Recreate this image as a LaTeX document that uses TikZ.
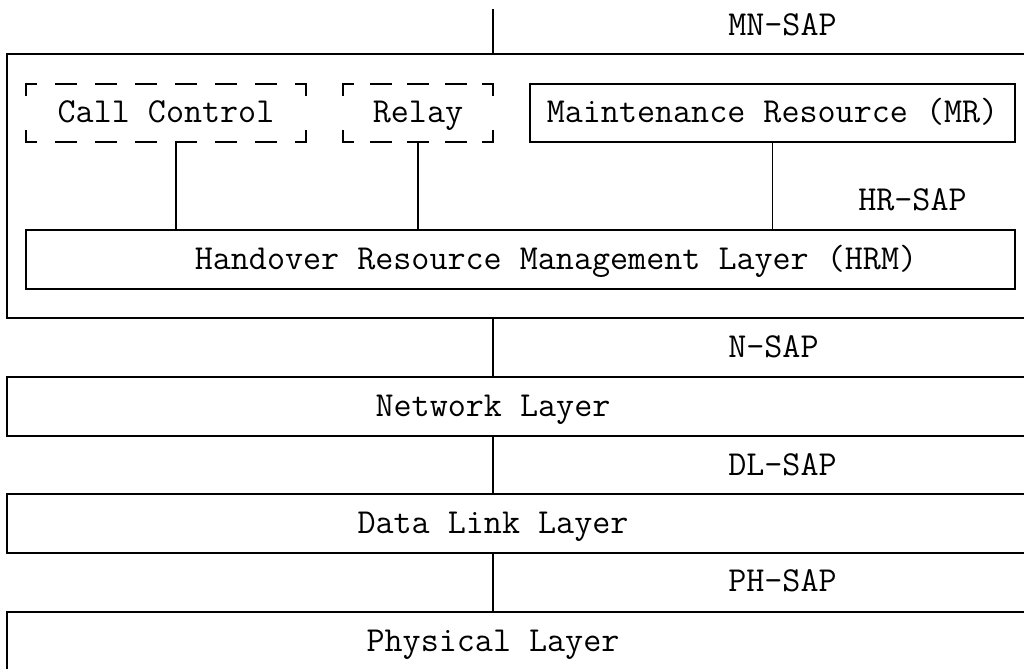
\documentclass[tikz,border=0pt]{standalone}
\usetikzlibrary{positioning}
\tikzset{
  basebox/.style={draw=black,line width=1.4pt,fill=none,inner sep=0pt,outer sep=0pt,align=center},
  solidbox/.style={basebox,minimum height=43.75pt},
  dashbox/.style={basebox,draw=none,minimum height=43.5pt},
  layerbox/.style={basebox,minimum width=774.75pt,minimum height=44.25pt},
  txt/.style={inner sep=0pt,font=\ttfamily\fontsize{26.3}{30}\selectfont,text height=19.7pt,text depth=5.3pt},
  saplabel/.style={txt,anchor=west},
  link/.style={line width=1.4pt,draw=black},
  ccside/.style={link,line cap=rect,dash pattern=on 15.1pt off 14.9pt,dash phase=7.55pt},
  relayside/.style={link,line cap=rect,dash pattern=on 15.1pt off 13.025pt,dash phase=7.55pt},
  vside/.style={link,line cap=rect,dash pattern=on 16.6pt off 26.9pt,dash phase=8.3pt}
}

\begin{document}
\begin{tikzpicture}[x=0.75pt,y=-0.75pt]
  \useasboundingbox (0,0) rectangle (1024,668);
  \clip (0,0) rectangle (1024,668);
  % service access point axis
  \coordinate (top) at (493,9);

  % upper entity
  \node[basebox,minimum width=774.75pt,minimum height=198pt] (outer) at (523.5,186) {};
  \node[dashbox,txt,minimum width=210pt] (cc) at (166,113) {Call Control};
  \node[dashbox,txt,minimum width=112.5pt] (relay) at (418,113) {Relay};
  \node[solidbox,txt,minimum width=363.75pt] (mr) at (772.5,113) {Maintenance Resource (MR)};
  \node[basebox,minimum width=741.75pt,minimum height=44.25pt] (hrm) at (520.5,259.5) {};
  \node[txt] (hrmtxt) at ([xshift=26.6pt]hrm.center) {Handover Resource Management Layer (HRM)};
  \coordinate (ccfoot) at ([xshift=7.5pt]cc.south);

  % dashed frames, one side at a time
  \draw[ccside] (cc.north west) -- (cc.north east);
  \draw[ccside] (cc.south west) -- (cc.south east);
  \draw[vside] (cc.north west) -- (cc.south west);
  \draw[vside] (cc.north east) -- (cc.south east);
  \draw[relayside] (relay.north west) -- (relay.north east);
  \draw[relayside] (relay.south west) -- (relay.south east);
  \draw[vside] (relay.north west) -- (relay.south west);
  \draw[vside] (relay.north east) -- (relay.south east);

  % lower layers
  \node[layerbox,below=44.25pt of outer] (net) {};
  \node[layerbox,below=43.5pt of net] (dl) {};
  \node[layerbox,below=44.25pt of dl] (ph) {};
  \node[txt] (nettxt) at (net.center -| top) {Network Layer};
  \node[txt] (dltxt) at (dl.center -| top) {Data Link Layer};
  \node[txt] (phtxt) at (ph.center -| top) {Physical Layer};

  % SAP labels
  \node[saplabel] (mnsap) at (728,26) {MN-SAP};
  \node[saplabel] (hrsap) at (858,201) {HR-SAP};
  \node[saplabel] (nsap) at (728,348) {N-SAP};
  \node[saplabel] (dlsap) at (728,466) {DL-SAP};
  \node[saplabel] (phsap) at (728,582) {PH-SAP};

  % connectors
  \draw[link] (top) -- (outer.north -| top);
  \draw[link] (ccfoot) -- (hrm.north -| ccfoot);
  \draw[link] (relay.south) -- (hrm.north -| relay.south);
  \draw[link] (mr.south) -- (hrm.north -| mr.south);
  \draw[link] (outer.south -| top) -- (net.north -| top);
  \draw[link] (net.south -| top) -- (dl.north -| top);
  \draw[link] (dl.south -| top) -- (ph.north -| top);
\end{tikzpicture}
\end{document}
